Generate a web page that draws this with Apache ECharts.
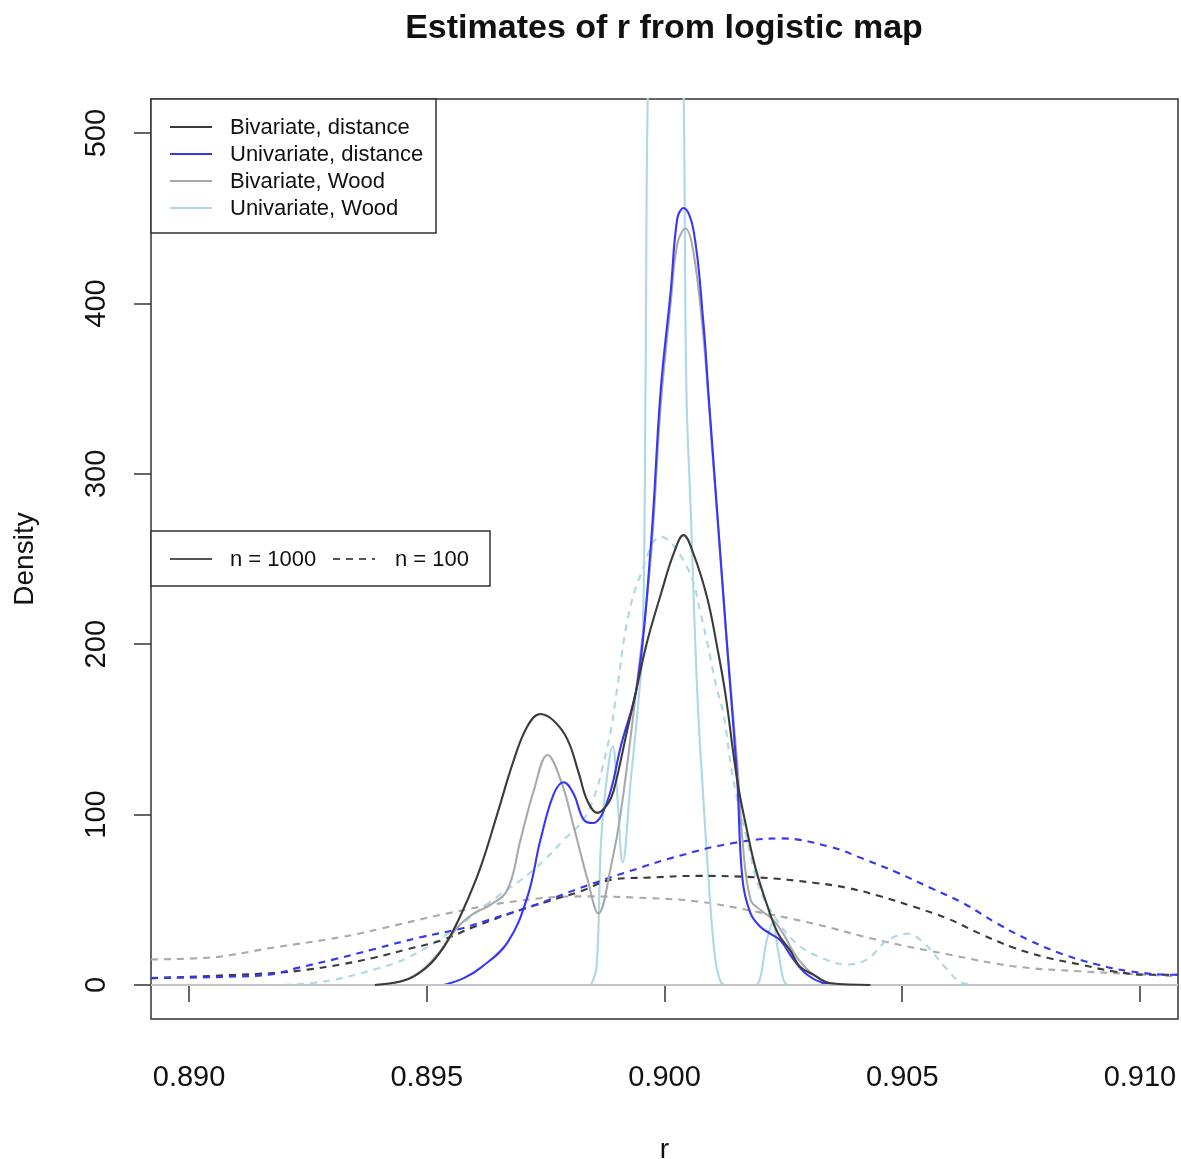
<!DOCTYPE html>
<html>
<head>
<meta charset="utf-8">
<title>Estimates of r from logistic map</title>
<script src="https://cdn.jsdelivr.net/npm/echarts@6/dist/echarts.min.js"></script>
<style>
  html, body { margin: 0; padding: 0; background: #ffffff; }
  #chart { width: 1181px; height: 1159px; }
</style>
</head>
<body>
<div id="chart"></div>
<script>
// Kernel density estimates of the logistic-map parameter r.
// Each curve: r grid values and the estimated density at those points.

// n = 1000
const rBivDist1000 = [0.89391, 0.89445, 0.89473, 0.89510, 0.89544, 0.89578, 0.89613, 0.89649, 0.89683, 0.89712, 0.89739, 0.89767, 0.89796, 0.89820, 0.89838, 0.89859, 0.89880, 0.89893, 0.89922, 0.89939, 0.89964, 0.89992, 0.90019, 0.90040, 0.90061, 0.90090, 0.90111, 0.90128, 0.90153, 0.90174, 0.90191, 0.90212, 0.90239, 0.90265, 0.90284, 0.90313, 0.90349, 0.90433];
const dBivDist1000 = [0, 2, 5, 13, 26, 45, 69, 101, 132, 152, 159, 155, 144, 124, 108, 101, 106, 114, 150, 171, 202, 229, 253, 264, 253, 227, 198, 171, 120, 90, 69, 50, 30, 20, 11, 6, 1, 0];

const rUniDist1000 = [0.89536, 0.89578, 0.89613, 0.89670, 0.89712, 0.89739, 0.89767, 0.89788, 0.89809, 0.89830, 0.89849, 0.89880, 0.89908, 0.89943, 0.89971, 0.89992, 0.90013, 0.90027, 0.90040, 0.90061, 0.90082, 0.90092, 0.90111, 0.90132, 0.90153, 0.90164, 0.90181, 0.90202, 0.90223, 0.90244, 0.90271, 0.90300, 0.90334, 0.90363];
const dUniDist1000 = [0, 4, 10, 25, 52, 85, 112, 119, 112, 97, 95, 108, 140, 177, 257, 349, 407, 450, 456, 443, 388, 349, 277, 198, 120, 62, 42, 34, 30, 26, 15, 6, 1, 0];

const rBivWood1000 = [0.89391, 0.89445, 0.89487, 0.89529, 0.89565, 0.89599, 0.89634, 0.89670, 0.89697, 0.89725, 0.89754, 0.89782, 0.89809, 0.89838, 0.89861, 0.89887, 0.89908, 0.89943, 0.89971, 0.89992, 0.90013, 0.90027, 0.90044, 0.90061, 0.90082, 0.90092, 0.90111, 0.90132, 0.90153, 0.90164, 0.90181, 0.90202, 0.90229, 0.90250, 0.90279, 0.90313, 0.90349, 0.90391];
const dBivWood1000 = [0, 2, 8, 20, 34, 42, 47, 56, 85, 114, 135, 120, 93, 62, 42, 69, 101, 179, 250, 340, 400, 435, 444, 430, 380, 345, 275, 198, 130, 85, 50, 44, 38, 30, 16, 6, 1, 0];

const rUniWood1000 = [0.89845, 0.89857, 0.89866, 0.89876, 0.89891, 0.89901, 0.89912, 0.89929, 0.89943, 0.89954, 0.89960, 0.89966, 0.89980, 0.90002, 0.90023, 0.90038, 0.90046, 0.90055, 0.90069, 0.90082, 0.90097, 0.90107, 0.90118, 0.90128, 0.90191, 0.90202, 0.90214, 0.90227, 0.90239, 0.90250, 0.90258];
const dUniWood1000 = [0, 10, 81, 115, 140, 110, 72, 120, 160, 200, 349, 540, 620, 600, 640, 560, 349, 280, 171, 108, 45, 15, 2, 0, 0, 5, 25, 36, 20, 3, 0];

// n = 100
const rBivDist100 = [0.88920, 0.89179, 0.89250, 0.89319, 0.89389, 0.89460, 0.89529, 0.89599, 0.89697, 0.89754, 0.89824, 0.89893, 0.89964, 0.90069, 0.90202, 0.90313, 0.90384, 0.90454, 0.90523, 0.90595, 0.90664, 0.90733, 0.90805, 0.90874, 0.90943, 0.91015, 0.91080];
const dBivDist100 = [4, 7, 9, 12, 16, 21, 26, 34, 44, 49, 55, 62, 63, 64, 63, 60, 57, 52, 46, 39, 30, 22, 16, 12, 8, 6, 6];

const rUniDist100 = [0.88920, 0.89109, 0.89179, 0.89229, 0.89305, 0.89389, 0.89487, 0.89571, 0.89628, 0.89718, 0.89824, 0.89929, 0.90034, 0.90139, 0.90244, 0.90349, 0.90418, 0.90489, 0.90559, 0.90628, 0.90700, 0.90769, 0.90838, 0.90910, 0.90979, 0.91069, 0.91080];
const dUniDist100 = [4, 5, 6.5, 10, 15, 21, 28, 33, 38, 46, 57, 67, 76, 83, 86, 81, 74, 66, 57, 48, 36, 26, 18, 12, 8, 6, 6];

const rBivWood100 = [0.88920, 0.89040, 0.89179, 0.89319, 0.89403, 0.89544, 0.89683, 0.89824, 0.89964, 0.90069, 0.90174, 0.90313, 0.90454, 0.90595, 0.90733, 0.90874, 0.91015, 0.91080];
const dBivWood100 = [15, 16, 22, 28, 33, 42, 49, 52, 51, 49, 44, 36, 26, 18, 11, 8, 6, 5];

const rUniWood100 = [0.89200, 0.89284, 0.89389, 0.89460, 0.89544, 0.89649, 0.89718, 0.89788, 0.89838, 0.89880, 0.89901, 0.89922, 0.89950, 0.89992, 0.90048, 0.90076, 0.90111, 0.90124, 0.90145, 0.90174, 0.90202, 0.90244, 0.90279, 0.90321, 0.90384, 0.90426, 0.90468, 0.90511, 0.90544, 0.90595, 0.90628, 0.90664, 0.90800];
const dUniWood100 = [0, 2, 9, 16, 30, 52, 66, 85, 101, 140, 175, 214, 241, 263, 245, 218, 173, 159, 120, 85, 55, 35, 24, 17, 12, 15, 26, 30, 25, 9, 1, 0, 0];

// Axis ticks
const xTicks = [0.890, 0.895, 0.900, 0.905, 0.910];
const yTicks = [0, 100, 200, 300, 400, 500];

const FONT = '"Liberation Sans", Arial, Helvetica, sans-serif';
const COL_DARK = '#3b3b3b';
const COL_BLUE = '#3636f8';
const COL_GRAY = '#a9a9a9';
const COL_LBLUE = '#add8e6';
const DASH = [7, 6];

function pairs(rs, ds) { return rs.map((r, i) => [r, ds[i]]); }

function curve(name, rs, ds, color, dashed, z) {
  return {
    name: name,
    type: 'line',
    data: pairs(rs, ds),
    showSymbol: false,
    symbol: 'none',
    smooth: 0.4,
    clip: true,
    silent: true,
    z: z,
    lineStyle: { color: color, width: 2.1, type: dashed ? DASH : 'solid' }
  };
}

const series = [
  curve('Bivariate, Wood, n = 100', rBivWood100, dBivWood100, COL_GRAY, true, 2),
  curve('Univariate, Wood, n = 100', rUniWood100, dUniWood100, COL_LBLUE, true, 2),
  curve('Bivariate, distance, n = 100', rBivDist100, dBivDist100, COL_DARK, true, 3),
  curve('Univariate, distance, n = 100', rUniDist100, dUniDist100, COL_BLUE, true, 3),
  curve('Univariate, Wood, n = 1000', rUniWood1000, dUniWood1000, COL_LBLUE, false, 2),
  curve('Bivariate, Wood, n = 1000', rBivWood1000, dBivWood1000, COL_GRAY, false, 3),
  curve('Univariate, distance, n = 1000', rUniDist1000, dUniDist1000, COL_BLUE, false, 4),
  curve('Bivariate, distance, n = 1000', rBivDist1000, dBivDist1000, COL_DARK, false, 5)
];

// horizontal reference line at zero density
series[0].markLine = {
  silent: true,
  symbol: 'none',
  label: { show: false },
  lineStyle: { color: '#c4c4c4', width: 2, type: 'solid' },
  data: [{ yAxis: 0 }]
};

// legend boxes, drawn as plain shapes
const legendRows = [
  { label: 'Bivariate, distance', color: COL_DARK },
  { label: 'Univariate, distance', color: COL_BLUE },
  { label: 'Bivariate, Wood', color: COL_GRAY },
  { label: 'Univariate, Wood', color: COL_LBLUE }
];
const graphic = [
  { type: 'rect', z: 50, shape: { x: 151, y: 99, width: 285, height: 134 },
    style: { fill: '#ffffff', stroke: '#333333', lineWidth: 1.5 } }
];
legendRows.forEach((row, i) => {
  const y = 127 + i * 27;
  graphic.push({ type: 'line', z: 51, shape: { x1: 170, y1: y, x2: 212, y2: y },
    style: { stroke: row.color, lineWidth: 2 } });
  graphic.push({ type: 'text', z: 51, x: 230, y: y + 1,
    style: { text: row.label, font: '22px ' + FONT, fill: '#111111', align: 'left', verticalAlign: 'middle' } });
});
graphic.push(
  { type: 'rect', z: 50, shape: { x: 151, y: 531, width: 339, height: 55 },
    style: { fill: '#ffffff', stroke: '#333333', lineWidth: 1.5 } },
  { type: 'line', z: 51, shape: { x1: 170, y1: 559, x2: 212, y2: 559 },
    style: { stroke: '#555555', lineWidth: 2 } },
  { type: 'text', z: 51, x: 230, y: 560,
    style: { text: 'n = 1000', font: '22px ' + FONT, fill: '#111111', align: 'left', verticalAlign: 'middle' } },
  { type: 'line', z: 51, shape: { x1: 333, y1: 559, x2: 375, y2: 559 },
    style: { stroke: '#555555', lineWidth: 2, lineDash: DASH } },
  { type: 'text', z: 51, x: 395, y: 560,
    style: { text: 'n = 100', font: '22px ' + FONT, fill: '#111111', align: 'left', verticalAlign: 'middle' } }
);

const chart = echarts.init(document.getElementById('chart'), null, { renderer: 'canvas' });
chart.setOption({
  animation: false,
  backgroundColor: '#ffffff',
  textStyle: { fontFamily: FONT },
  title: {
    text: 'Estimates of r from logistic map',
    left: 664,
    textAlign: 'center',
    top: 12,
    padding: 0,
    textStyle: { fontFamily: FONT, fontSize: 34, fontWeight: 'bold', color: '#111111' }
  },
  grid: {
    left: 151, right: 3, top: 99, bottom: 140,
    show: true, borderColor: '#333333', borderWidth: 1.5,
    backgroundColor: 'transparent',
    outerBoundsMode: 'none'
  },
  xAxis: {
    type: 'value',
    min: 0.8892, max: 0.9108,
    name: 'r',
    nameLocation: 'middle',
    nameGap: 117,
    nameTextStyle: { fontFamily: FONT, fontSize: 28, color: '#111111' },
    axisLine: { show: false },
    splitLine: { show: false },
    axisTick: { show: true, inside: false, length: 17, customValues: xTicks,
      lineStyle: { color: '#333333', width: 1.5 } },
    axisLabel: { customValues: xTicks, formatter: v => v.toFixed(3),
      fontFamily: FONT, fontSize: 29, color: '#111111', margin: 44 }
  },
  yAxis: {
    type: 'value',
    min: -20, max: 520,
    name: 'Density',
    nameLocation: 'middle',
    nameGap: 112,
    nameTextStyle: { fontFamily: FONT, fontSize: 28, color: '#111111' },
    axisLine: { show: false },
    splitLine: { show: false },
    axisTick: { show: true, inside: false, length: 17, customValues: yTicks,
      lineStyle: { color: '#333333', width: 1.5 } },
    axisLabel: { customValues: yTicks, rotate: 90,
      fontFamily: FONT, fontSize: 29, color: '#111111', margin: 40 }
  },
  series: series,
  graphic: graphic
});
</script>
</body>
</html>
